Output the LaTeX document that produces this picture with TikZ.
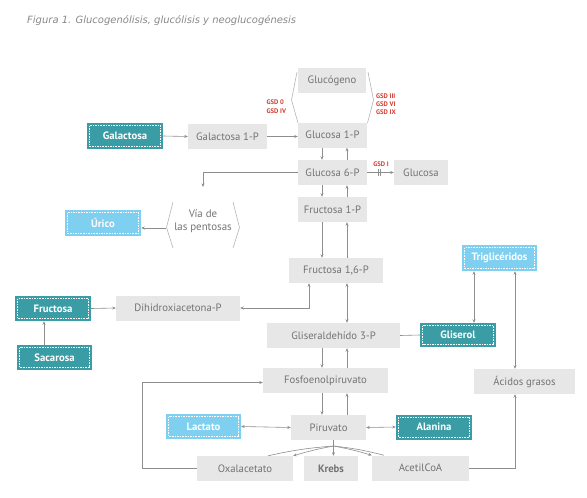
\documentclass[tikz,border=0pt]{standalone}
\usepackage{fontspec}
\setmainfont{PT Sans}
\newfontfamily\titlefont{DejaVu Sans}
\usetikzlibrary{arrows.meta}
\definecolor{boxgray}{HTML}{E7E7E7}
\definecolor{txtgray}{HTML}{737373}
\definecolor{lngray}{HTML}{8E8E8E}
\definecolor{brgray}{HTML}{B4B4B4}
\definecolor{tealc}{HTML}{3A9CA4}
\definecolor{lblue}{HTML}{7FCFF0}
\definecolor{gsdred}{HTML}{D23A2E}
\tikzset{
  gbox/.style={fill=boxgray, text=txtgray, minimum height=25pt, inner sep=0pt, font=\fontsize{10.7}{12}\selectfont},
  inset/.style={path picture={\draw[white, line width=0.5pt, dash pattern=on 1.6pt off 1pt]
      ([shift={(2.5pt,-2.5pt)}]path picture bounding box.north west) rectangle
      ([shift={(-2.5pt,2.5pt)}]path picture bounding box.south east);}},
  tbox/.style={fill=tealc, text=white, minimum height=25pt, inner sep=0pt, font=\fontsize{10.7}{12}\selectfont\bfseries, inset},
  bbox/.style={fill=lblue, text=white, minimum height=25pt, inner sep=0pt, font=\fontsize{10.7}{12}\selectfont\bfseries, inset},
  gsd/.style={text=gsdred, inner sep=0pt, font=\fontsize{6.6}{7}\selectfont\bfseries},
  ln/.style={draw=lngray, line width=0.6pt},
  arr/.style={ln, -{Stealth[length=3.5pt,width=3pt]}},
  arrb/.style={ln, {Stealth[length=3.5pt,width=3pt]}-{Stealth[length=3.5pt,width=3pt]}},
  brk/.style={draw=brgray, line width=0.6pt},
}
\begin{document}
\begin{tikzpicture}[x=1pt,y=-1pt]
\useasboundingbox (0,0) rectangle (587,498);
\node[anchor=west, text=txtgray!85, inner sep=0pt, font=\titlefont\fontsize{10}{11}\selectfont\itshape] (title) at (27,21) {Figura 1. Glucogenólisis, glucólisis y neoglucogénesis};

% coordinates for vertical arrow columns
\coordinate (dnx) at (322,0);
\coordinate (upx) at (347,0);

% gray boxes
\node[gbox, minimum width=68pt] (glucogeno) at (332,80.5) {Glucógeno};
\node[gbox, minimum width=69pt] (g1p) at (332.5,135) {Glucosa 1-P};
\node[gbox, minimum width=79pt] (gal1p) at (227.5,136.5) {Galactosa 1-P};
\node[gbox, minimum width=69pt] (g6p) at (332.5,172.5) {Glucosa 6-P};
\node[gbox, minimum width=54pt] (gluc) at (421,172.5) {Glucosa};
\node[gbox, minimum width=69pt] (f1p) at (332.5,209.5) {Fructosa 1-P};
\node[gbox, minimum width=94pt] (f16p) at (336,270.5) {Fructosa 1,6-P};
\node[gbox, minimum width=124pt] (dhap) at (178,308) {Dihidroxiacetona-P};
\node[gbox, minimum width=133pt] (g3p) at (333.5,335.5) {Gliseraldehído 3-P};
\node[gbox, minimum width=125pt] (pep) at (325.5,380.5) {Fosfoenolpiruvato};
\node[gbox, minimum width=101pt] (ag) at (524.5,381.5) {Ácidos grasos};
\node[gbox, minimum width=75pt] (pir) at (328.5,427.5) {Piruvato};
\node[gbox, minimum width=96pt] (oxa) at (245,468.5) {Oxalacetato};
\node[gbox, minimum width=54pt, font=\fontsize{10.7}{12}\selectfont\bfseries] (krebs) at (331,468.5) {Krebs};
\node[gbox, minimum width=97pt] (acoa) at (420.5,468) {AcetilCoA};

% coloured boxes
\node[tbox, minimum width=76pt, minimum height=26pt] (galac) at (125,136) {Galactosa};
\node[tbox, minimum width=76pt] (fru) at (53,308.5) {Fructosa};
\node[tbox, minimum width=75pt] (sac) at (54.5,357.5) {Sacarosa};
\node[tbox, minimum width=76pt, minimum height=24pt] (glis) at (458,335) {Gliserol};
\node[tbox, minimum width=76pt] (ala) at (434,427) {Alanina};
\node[bbox, minimum width=76pt, minimum height=26pt] (urico) at (103,223) {Úrico};
\node[bbox, minimum width=75pt, minimum height=26pt] (trig) at (499.5,258) {Triglicéridos};
\node[bbox, minimum width=75pt] (lact) at (203.5,426.5) {Lactato};

% Via de las pentosas
\node[text=txtgray, align=center, inner sep=0pt, minimum width=73pt, font=\fontsize{10.9}{13}\selectfont] (pent) at (203,221) {Vía de\\las pentosas};
\draw[brk] (173,202) -- (166.5,227.5) -- (173,248);
\draw[brk] (233,202) -- (239.5,227.5) -- (233,248);

% brackets around glucogeno
\draw[brk] (297,72) -- (291.5,100) -- (298,123);
\draw[brk] (368,72) -- (373.5,100) -- (367.5,123);

% GSD labels
\node[gsd, anchor=west] (gsd0) at (266.5,102.5) {GSD 0};
\node[gsd, anchor=west] (gsd4) at (266.5,111) {GSD IV};
\node[gsd, anchor=west] (gsd3) at (376,96) {GSD III};
\node[gsd, anchor=west] (gsd6) at (376,104) {GSD VI};
\node[gsd, anchor=west] (gsd9) at (376,112) {GSD IX};
\node[gsd] (gsd1) at (381,164.5) {GSD I};

% connectors
\draw[arr] (galac.east) -- (gal1p.west);
\draw[arr] (gal1p.east) -- (gal1p.east -| g1p.west);

\draw[arr] (g1p.south -| dnx) -- (g6p.north -| dnx);
\draw[arr] (g6p.north -| upx) -- (g1p.south -| upx);
\draw[arr] (g6p.south -| dnx) -- (f1p.north -| dnx);
\draw[arr] (f1p.north -| upx) -- (g6p.south -| upx);
\draw[arr] (f1p.south -| dnx) -- (f16p.north -| dnx);
\draw[arr] (f16p.north -| upx) -- (f1p.south -| upx);
\draw[arrb] (f16p.south -| upx) -- (g3p.north -| upx);
\draw[arr] (g3p.south -| dnx) -- (pep.north -| dnx);
\draw[arr] (pep.north -| upx) -- (g3p.south -| upx);
\draw[arr] (pep.south -| dnx) -- (pir.north -| dnx);
\draw[arr] (pir.north -| upx) -- (pep.south -| upx);

% glucosa 6-P -> glucosa with block
\draw[arr] (g6p.east) -- (gluc.west);
\coordinate (blk) at (378,172.5);
\draw[ln] (blk) ++(0,-3.5) -- ++(0,7);
\draw[ln] (blk) ++(2.5,-3.5) -- ++(0,7);

% glucosa 6-P -> pentosas
\coordinate (pentin) at (203,187);
\draw[arr] (g6p.west) -| (pentin);
\draw[arr] ([yshift=-7pt]pent.west) -- ([yshift=-7pt]pent.west -| urico.east);

% fructosa branch
\draw[arr] (fru.east) -- (dhap.west);
\coordinate (sx) at (44,0);
\draw[arr] (sac.north -| sx) -- (fru.south -| sx);
\coordinate (dhx) at (309,0);
\draw[arrb] (dhap.east) -| (f16p.south -| dhx);

% glycerol / lipids
\draw[ln] (g3p.east) -- (glis.west);
\coordinate (tgx) at (474,0);
\coordinate (agx) at (515,0);
\draw[arrb] (glis.north -| tgx) -- (trig.south -| tgx);
\draw[arrb] (trig.south -| agx) -- (ag.north -| agx);
\draw[arr] (acoa.east) -| (ag.south -| agx);

% oxalacetato -> PEP
\coordinate (oxl) at (142,0);
\draw[arr] (oxa.west) -- (oxa.west -| oxl) |- ([yshift=-2pt]pep.west);

% piruvato exchanges
\draw[arrb] (lact.east) -- (pir.west);
\draw[arrb] (pir.east) -- (ala.west);

% piruvato split
\coordinate (split) at (333.5,446);
\coordinate (oxA) at (268,0);
\coordinate (acB) at (384,0);
\draw[ln] (pir.south -| split) -- (split);
\draw[arr] (split) -- (krebs.north -| split);
\draw[ln] (split) to[bend right=4] (oxa.north -| oxA);
\draw[arr] (split) to[bend right=3] (oxa.north east);
\draw[arr] (split) to[bend left=3] (acoa.north west);
\draw[ln] (split) to[bend left=4] (acoa.north -| acB);
\end{tikzpicture}
\end{document}
